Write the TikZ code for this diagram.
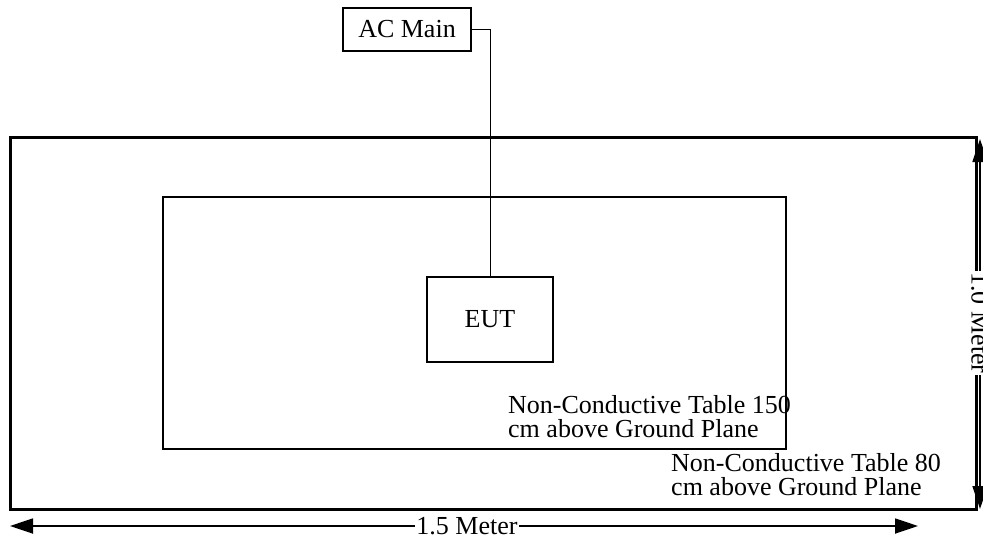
\documentclass[tikz,border=0pt]{standalone}
\usepackage{fontspec}
\setmainfont{Liberation Serif}
\usetikzlibrary{arrows.meta}
\begin{document}
\begin{tikzpicture}[x=1pt,y=-1pt,
  txt/.style={font=\fontsize{26}{24}\selectfont},
  thinbox/.style={draw=black,line width=1.3pt},
  dimarrow/.style={line width=1.8pt,{Triangle[length=23pt,width=15pt]}-{Triangle[length=23pt,width=15pt]}},
  dimlabel/.style={txt,fill=white,inner sep=1.5pt}]
\useasboundingbox (0,0) rectangle (983,541);
% outer table
\draw[line width=3pt] (10,137) rectangle (976,509);
% inner table
\draw[thinbox] (163,197) rectangle (786,449);
% AC Main and EUT
\node[thinbox,txt,minimum width=128pt,minimum height=43pt,inner sep=0pt] (ac) at (407,29.5) {AC Main};
\node[thinbox,txt,minimum width=126pt,minimum height=85pt,inner sep=0pt] (eut) at (490,319.5) {EUT};
\coordinate (bend) at (490,29.5);
\draw[line width=1pt] (ac.east) -- (bend) -- (eut.north);
% table labels (anchor on the baseline of the last line)
\node[txt,anchor=base west,align=left,inner sep=0pt] (t150) at (508,437) {Non-Conductive Table 150\\cm above Ground Plane};
\node[txt,anchor=base west,align=left,inner sep=0pt] (t80) at (671,495) {Non-Conductive Table 80\\cm above Ground Plane};
% dimension arrows
\coordinate (hl) at (10,526);
\coordinate (hr) at (918,526);
\draw[dimarrow] (hl) -- (hr);
\node[dimlabel] (hlab) at (467,526) {1.5 Meter};
\coordinate (vt) at (980,139);
\coordinate (vb) at (980,509);
\draw[dimarrow] (vt) -- (vb);
\node[dimlabel,rotate=-90] (vlab) at (980,323) {1.0 Meter};
\end{tikzpicture}
\end{document}
